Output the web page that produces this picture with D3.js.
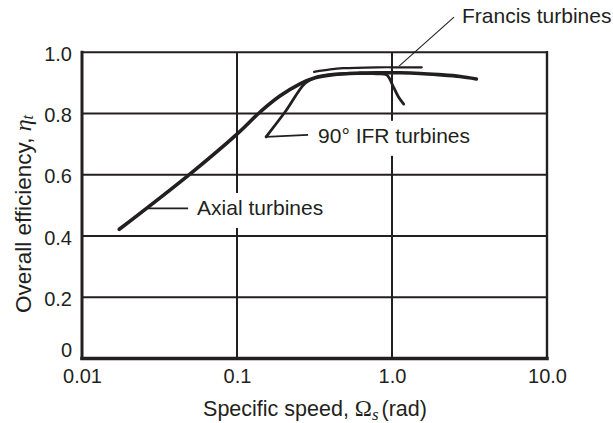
<!DOCTYPE html>
<html>
<head>
<meta charset="utf-8">
<script src="https://cdn.jsdelivr.net/npm/d3@7"></script>
<style>
  html, body { margin: 0; padding: 0; background: #fff; }
  svg { display: block; }
</style>
</head>
<body>
<svg id="chart" width="613" height="423"></svg>
<script>
// Axis ticks
const speedTicks = [0.01, 0.1, 1, 10];
const speedTickLabels = ["0.01", "0.1", "1.0", "10.0"];
const effTicks = [0, 0.2, 0.4, 0.6, 0.8, 1.0];
const effTickLabels = ["0", "0.2", "0.4", "0.6", "0.8", "1.0"];

// Axial turbines: specific speed (rad) vs overall efficiency
const axialSpeed = [0.0174, 0.049, 0.1, 0.141, 0.189, 0.255, 0.319, 0.416, 0.622, 0.837, 1.127, 1.516, 2.0, 2.75, 3.5];
const axialEff   = [0.422, 0.600, 0.733, 0.805, 0.857, 0.897, 0.917, 0.927, 0.932, 0.933, 0.933, 0.931, 0.927, 0.921, 0.913];

// 90° inward-flow radial turbines
const ifrSpeed = [0.154, 0.204, 0.275, 0.319, 0.42, 0.62, 0.80, 0.925, 1.019, 1.099, 1.19];
const ifrEff   = [0.724, 0.805, 0.899, 0.917, 0.928, 0.932, 0.930, 0.926, 0.888, 0.855, 0.831];

// Francis turbines
const francisSpeed = [0.314, 0.40, 0.483, 0.8, 1.2, 1.555];
const francisEff   = [0.936, 0.944, 0.948, 0.951, 0.951, 0.951];

const ink = "#231f20";
const font = "'Liberation Sans', Arial, Helvetica, sans-serif";
const mathFont = "'Liberation Serif', 'Times New Roman', serif";

const svg = d3.select("#chart");
svg.append("rect").attr("width", 613).attr("height", 423).attr("fill", "#fff");

const x = d3.scaleLog().domain([0.01, 10]).range([82, 547]);
const y = d3.scaleLinear().domain([0, 1]).range([358.5, 52.3]);

// Grid lines
const grid = svg.append("g").attr("stroke", ink).attr("stroke-width", 2);
grid.selectAll("line.h").data(effTicks.filter(d => d > 0 && d < 1)).join("line")
  .attr("class", "h")
  .attr("x1", x(0.01)).attr("x2", x(10))
  .attr("y1", d => y(d)).attr("y2", d => y(d));
grid.selectAll("line.v").data(speedTicks.slice(1, -1)).join("line")
  .attr("class", "v")
  .attr("x1", d => x(d)).attr("x2", d => x(d))
  .attr("y1", y(1)).attr("y2", y(0));

// Plot frame: heavier left and bottom edges
const frame = svg.append("g").attr("stroke", ink).attr("stroke-linecap", "square");
frame.append("line").attr("x1", x(0.01)).attr("x2", x(10)).attr("y1", y(1)).attr("y2", y(1)).attr("stroke-width", 2);
frame.append("line").attr("x1", x(10)).attr("x2", x(10)).attr("y1", y(1)).attr("y2", y(0)).attr("stroke-width", 2.4);
frame.append("line").attr("x1", x(0.01)).attr("x2", x(0.01)).attr("y1", y(1)).attr("y2", y(0)).attr("stroke-width", 3);
frame.append("line").attr("x1", x(0.01)).attr("x2", x(10)).attr("y1", y(0)).attr("y2", y(0)).attr("stroke-width", 3.4);

// Tick labels
const yAxis = svg.append("g").attr("transform", `translate(${x(0.01)},0)`)
  .call(d3.axisLeft(y).tickValues(effTicks).tickFormat((d, i) => effTickLabels[i]).tickSize(0).tickPadding(10));
const xAxis = svg.append("g").attr("transform", `translate(0,${y(0)})`)
  .call(d3.axisBottom(x).tickValues(speedTicks).tickFormat((d, i) => speedTickLabels[i]).tickSize(0).tickPadding(10));
[yAxis, xAxis].forEach(a => {
  a.select(".domain").remove();
  a.selectAll("text").attr("fill", ink).attr("font-family", font).attr("font-size", 20);
});
// y labels sit just below their grid line; the zero label is lifted clear of the x labels
yAxis.selectAll("text").attr("dy", d => d === 0 ? "-0.1em" : "0.4em");

// Axis titles
const yTitle = svg.append("text")
  .attr("transform", "translate(23,214) rotate(-90)")
  .attr("text-anchor", "middle").attr("dominant-baseline", "central")
  .attr("font-family", font).attr("font-size", 22.5).attr("fill", ink);
yTitle.append("tspan").text("Overall efficiency, ");
yTitle.append("tspan").attr("font-family", mathFont).attr("font-style", "italic").attr("font-size", 24).text("η");
yTitle.append("tspan").attr("font-family", mathFont).attr("font-style", "italic").attr("font-size", 16).attr("dy", 4).text("t");

const xTitle = svg.append("text")
  .attr("x", 315).attr("y", 416)
  .attr("text-anchor", "middle")
  .attr("font-family", font).attr("font-size", 21.5).attr("fill", ink);
xTitle.append("tspan").text("Specific speed, ");
xTitle.append("tspan").attr("font-family", mathFont).attr("font-size", 23).text("Ω");
xTitle.append("tspan").attr("font-family", mathFont).attr("font-style", "italic").attr("font-size", 17).attr("dy", 4).text("s");
xTitle.append("tspan").attr("dy", -4).attr("dx", 3).text("(rad)");

// Curves
const line = d3.line().x(d => x(d[0])).y(d => y(d[1])).curve(d3.curveCatmullRom.alpha(0.5));
const series = [
  { speed: axialSpeed, eff: axialEff, width: 3.6 },
  { speed: ifrSpeed, eff: ifrEff, width: 2.8 },
  { speed: francisSpeed, eff: francisEff, width: 2.2 }
];
svg.append("g").selectAll("path").data(series).join("path")
  .attr("d", s => line(d3.zip(s.speed, s.eff)))
  .attr("fill", "none").attr("stroke", ink)
  .attr("stroke-width", s => s.width)
  .attr("stroke-linecap", "round").attr("stroke-linejoin", "round");

// Curve labels with leader lines
const labels = [
  { text: "Axial turbines", at: [0.0267, 0.49], lead: [40, 0], tx: 49, ty: 6.5, knockout: true, lw: 1.8 },
  { text: "90° IFR turbines", at: [0.154, 0.724], lead: [42, -2], tx: 52, ty: 6, knockout: true, lw: 1.8 },
  { text: "Francis turbines", at: [1.11, 0.955], lead: [55, -49], tx: 63, ty: -43, knockout: false, lw: 1.1 }
];
labels.forEach(l => {
  const px = x(l.at[0]), py = y(l.at[1]);
  const g = svg.append("g");
  const t = g.append("text")
    .attr("x", px + l.tx).attr("y", py + l.ty)
    .attr("font-family", font).attr("font-size", 21).attr("fill", ink)
    .text(l.text);
  if (l.knockout) {
    const b = t.node().getBBox();
    g.insert("rect", "text")
      .attr("x", b.x - 4).attr("y", b.y - 3)
      .attr("width", b.width + 8).attr("height", b.height + 12)
      .attr("fill", "#fff");
  }
  g.append("line")
    .attr("x1", px).attr("y1", py)
    .attr("x2", px + l.lead[0]).attr("y2", py + l.lead[1])
    .attr("stroke", ink).attr("stroke-width", l.lw);
});
</script>
</body>
</html>
